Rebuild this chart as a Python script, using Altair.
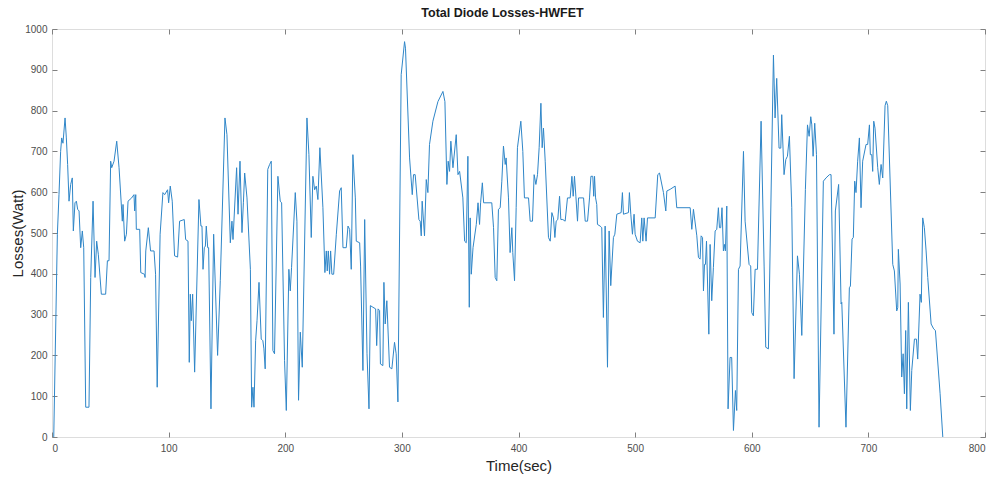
import altair as alt
import pandas as pd

# Time (s) and total diode losses (W)
t_sec = [1.5, 4.6, 6.0, 7.4, 8.3, 9.4, 11.2, 12.3, 13.4, 14.6, 16.0, 17.4, 18.3, 19.7, 20.9, 22.0, 23.2, 24.6, 26.0, 27.2,
         28.9, 31.7, 33.2, 35.2, 36.9, 38.3, 39.7, 42.3, 46.0, 47.5, 48.9, 50.3, 51.2, 53.2, 55.5, 57.5, 60.3, 60.9, 62.3, 63.8,
         65.2, 68.3, 70.3, 70.9, 71.8, 72.3, 75.2, 76.1, 79.2, 79.8, 80.4, 82.6, 84.5, 87.5, 88.8, 90.2, 92.7, 95.1, 96.6, 99.1,
         100.0, 101.4, 103.1, 105.1, 107.7, 109.4, 113.4, 114.6, 116.6, 117.7, 118.6, 119.4, 120.6, 122.3, 126.0, 127.7, 128.6, 129.5, 130.6, 131.5,
         132.3, 133.5, 134.3, 136.3, 138.6, 142.0, 144.3, 148.3, 150.0, 152.9, 154.3, 155.2, 158.3, 159.5, 161.2, 162.9, 164.1, 165.2, 167.2, 170.1,
         171.2, 172.3, 173.2, 174.6, 175.8, 177.5, 179.4, 180.8, 181.7, 182.8, 185.0, 186.6, 188.0, 189.4, 190.8, 193.7, 195.7, 196.9, 199.4, 200.9,
         203.1, 204.3, 205.4, 208.6, 210.0, 211.4, 212.9, 214.6, 218.6, 220.3, 222.3, 223.7, 225.2, 226.6, 228.0, 229.7, 232.3, 234.0, 235.2, 236.0,
         236.9, 238.0, 238.9, 240.0, 241.5, 243.8, 246.6, 248.0, 249.5, 252.3, 253.8, 255.2, 256.6, 258.0, 260.1, 260.9, 263.8, 264.6, 266.6, 268.1,
         270.1, 271.8, 273.0, 275.2, 277.5, 278.4, 279.6, 280.9, 281.6, 283.7, 284.6, 285.7, 287.1, 289.4, 291.4, 293.7, 295.1, 296.6, 299.4, 302.3,
         303.1, 306.6, 308.9, 310.0, 311.4, 314.6, 315.7, 316.6, 317.4, 319.4, 320.9, 322.3, 323.7, 326.6, 330.9, 335.2, 336.9, 338.6, 339.7, 340.9,
         342.0, 343.8, 346.6, 348.1, 349.5, 352.3, 353.8, 355.2, 356.6, 357.8, 358.6, 359.5, 361.0, 363.8, 365.3, 366.6, 367.5, 369.0, 370.1, 377.1,
         378.6, 380.0, 381.4, 382.8, 384.3, 385.7, 387.1, 388.6, 389.4, 391.4, 392.8, 394.3, 395.1, 396.6, 398.0, 399.1, 402.0, 403.7, 405.1, 408.6,
         410.0, 412.0, 413.4, 414.9, 416.3, 417.7, 419.2, 420.3, 421.4, 422.9, 425.7, 427.2, 428.6, 430.0, 431.2, 432.3, 433.7, 435.2, 436.3, 438.0,
         440.0, 442.0, 444.3, 445.8, 446.9, 448.0, 449.2, 450.6, 451.5, 455.8, 457.2, 459.2, 460.9, 462.1, 463.7, 464.5, 465.2, 466.1, 467.1, 467.7,
         470.0, 471.4, 472.8, 474.3, 476.3, 477.7, 479.1, 481.4, 482.6, 484.3, 488.0, 489.1, 490.0, 494.3, 495.1, 496.3, 497.7, 499.1, 500.0, 502.0,
         504.3, 505.7, 506.6, 507.7, 509.4, 510.6, 517.2, 519.4, 520.9, 524.3, 526.3, 527.2, 530.0, 534.3, 535.7, 547.2, 548.6, 550.0, 552.9, 554.3,
         555.7, 556.6, 557.8, 558.6, 559.5, 560.3, 561.2, 563.2, 564.3, 565.7, 567.1, 568.6, 570.0, 571.4, 572.3, 573.4, 574.5, 575.7, 576.6, 577.4,
         578.6, 579.7, 581.4, 582.8, 584.3, 586.0, 587.1, 588.6, 590.0, 592.9, 594.3, 597.7, 599.1, 600.0, 601.4, 602.9, 604.9, 608.0, 610.6, 612.0,
         614.3, 618.6, 620.0, 621.4, 623.4, 624.9, 625.7, 627.7, 629.2, 630.6, 632.3, 634.3, 636.3, 639.2, 640.9, 642.9, 646.0, 647.8, 649.2, 650.6,
         651.5, 652.6, 654.0, 655.5, 657.7, 661.4, 663.7, 666.6, 668.0, 670.5, 671.7, 674.5, 676.6, 677.2, 680.8, 683.7, 684.6, 686.0, 687.1, 688.3,
         689.4, 690.8, 692.3, 693.7, 695.1, 698.0, 699.4, 700.9, 701.7, 702.9, 703.7, 704.6, 705.7, 708.0, 709.4, 710.9, 712.3, 714.3, 715.4, 716.6,
         720.9, 722.3, 724.3, 725.2, 725.7, 727.2, 728.6, 729.8, 730.9, 732.0, 732.9, 734.3, 736.0, 737.2, 739.5, 741.2, 742.3, 744.3, 745.4, 746.6,
         748.0, 749.5, 750.9, 753.8, 756.0, 757.5, 761.5, 763.8]

loss_w = [0, 497, 594, 700, 733, 720, 782, 733, 668, 578, 619, 635, 505, 574, 578, 558, 554, 464, 505, 464,
          73, 73, 391, 578, 391, 480, 448, 350, 350, 432, 432, 676, 660, 676, 725, 660, 529, 570, 480, 497,
          578, 586, 594, 554, 594, 509, 509, 403, 399, 391, 456, 513, 456, 456, 399, 122, 497, 599, 594, 606,
          574, 615, 578, 444, 441, 529, 533, 484, 480, 183, 350, 285, 350, 159, 582, 517, 517, 411, 464, 468,
          517, 464, 464, 69, 497, 200, 383, 782, 741, 476, 529, 484, 660, 546, 676, 501, 574, 647, 586, 411,
          73, 122, 73, 236, 285, 379, 240, 236, 216, 167, 656, 668, 676, 212, 204, 639, 578, 574, 187, 65,
          411, 358, 415, 599, 529, 90, 257, 171, 782, 692, 489, 639, 606, 615, 582, 709, 562, 403, 456, 407,
          456, 399, 456, 399, 399, 497, 603, 611, 464, 464, 517, 509, 411, 692, 586, 480, 476, 419, 163, 533,
          204, 69, 322, 318, 314, 224, 314, 310, 179, 175, 379, 277, 334, 171, 167, 232, 204, 86, 888, 969,
          953, 684, 594, 643, 643, 533, 529, 493, 578, 493, 631, 599, 717, 774, 822, 847, 822, 619, 676, 651,
          725, 660, 741, 643, 651, 586, 480, 476, 688, 318, 537, 399, 464, 521, 574, 521, 574, 623, 574, 574,
          513, 391, 383, 558, 562, 627, 713, 668, 684, 586, 452, 513, 452, 383, 562, 709, 774, 700, 586, 586,
          529, 529, 643, 619, 643, 709, 818, 709, 757, 676, 489, 480, 550, 537, 489, 529, 533, 590, 533, 533,
          529, 586, 586, 639, 590, 639, 590, 529, 586, 586, 529, 529, 586, 639, 639, 590, 639, 586, 570, 521,
          517, 513, 293, 517, 171, 505, 371, 489, 497, 546, 550, 599, 546, 550, 599, 546, 497, 546, 497, 480,
          476, 537, 480, 537, 480, 537, 537, 643, 647, 599, 554, 603, 607, 615, 562, 562, 509, 558, 493, 440,
          436, 493, 489, 358, 423, 423, 480, 252, 472, 334, 415, 505, 509, 562, 513, 513, 562, 456, 472, 456,
          566, 69, 195, 195, 16, 114, 65, 411, 419, 700, 529, 423, 419, 305, 297, 411, 411, 774, 419, 220,
          216, 936, 782, 879, 708, 708, 790, 643, 680, 688, 737, 562, 143, 444, 399, 249, 607, 765, 737, 785,
          765, 688, 769, 692, 24, 627, 635, 643, 643, 252, 554, 619, 326, 330, 24, 366, 370, 485, 489, 627,
          599, 676, 733, 562, 676, 717, 717, 765, 692, 692, 651, 774, 757, 660, 619, 668, 635, 812, 823, 812,
          423, 407, 309, 317, 460, 375, 147, 204, 106, 261, 69, 330, 65, 163, 240, 240, 191, 350, 330, 537,
          513, 456, 391, 277, 265, 261, 106, 0]

x_ticks = [0, 100, 200, 300, 400, 500, 600, 700, 800]
y_ticks = [0, 100, 200, 300, 400, 500, 600, 700, 800, 900, 1000]

df = pd.DataFrame({"t": t_sec, "loss": loss_w})

FONT = "Liberation Sans"
AX = "#808080"
TXT = "#4d4d4d"

xs = alt.Scale(domain=[0, 800], nice=False, zero=False)
ys = alt.Scale(domain=[0, 1000], nice=False, zero=False)

base = alt.Chart(df)

line = base.mark_line(color="#2f86c8", strokeWidth=1).encode(
    x=alt.X("t:Q", scale=xs, axis=alt.Axis(
        orient="bottom", values=x_ticks, format="d", ticks=False, domain=False, grid=False,
        labelFontSize=10, labelColor=TXT, labelFont=FONT, labelPadding=6,
        title="Time(sec)", titleFont=FONT, titleFontSize=15, titleFontWeight="normal",
        titleColor="#262626", titleY=28, titleBaseline="middle")),
    y=alt.Y("loss:Q", scale=ys, axis=alt.Axis(
        orient="left", values=y_ticks, format="d", ticks=False, domain=False, grid=False,
        labelFontSize=10, labelColor=TXT, labelFont=FONT, labelPadding=5,
        title="Losses(Watt)", titleFont=FONT, titleFontSize=15, titleFontWeight="normal",
        titleColor="#262626", titleX=-35, titleY=204, titleAngle=270,
        titleAlign="center", titleBaseline="middle")),
)

def tick_axis(orient):
    return alt.Axis(orient=orient, offset=-5, values=(x_ticks if orient in ("top", "bottom") else y_ticks),
                    labels=False, domain=False, grid=False, ticks=True, tickSize=5,
                    tickColor=AX, tickWidth=1, title=None)

ticks1 = base.mark_line(strokeOpacity=0).encode(
    x=alt.X("t:Q", scale=xs, axis=tick_axis("bottom")),
    y=alt.Y("loss:Q", scale=ys, axis=tick_axis("left")),
)
ticks2 = base.mark_line(strokeOpacity=0).encode(
    x=alt.X("t:Q", scale=xs, axis=tick_axis("top")),
    y=alt.Y("loss:Q", scale=ys, axis=tick_axis("right")),
)

chart = alt.layer(line, ticks1, ticks2).resolve_axis(
    x="independent", y="independent"
).properties(
    width=933, height=408,
    autosize=alt.AutoSizeParams(type="none"),
    padding={"left": 52, "top": 29, "right": 7, "bottom": 40},
    title=alt.TitleParams("Total Diode Losses-HWFET", font=FONT, fontSize=12.5, fontWeight="bold",
                          color="#1a1a1a", anchor="middle", dx=-16, dy=15, offset=10, baseline="alphabetic"),
).configure_view(stroke=AX, strokeWidth=1).configure(background="white")

chart.save("out.html", embed_options={"renderer": "svg", "actions": False})
